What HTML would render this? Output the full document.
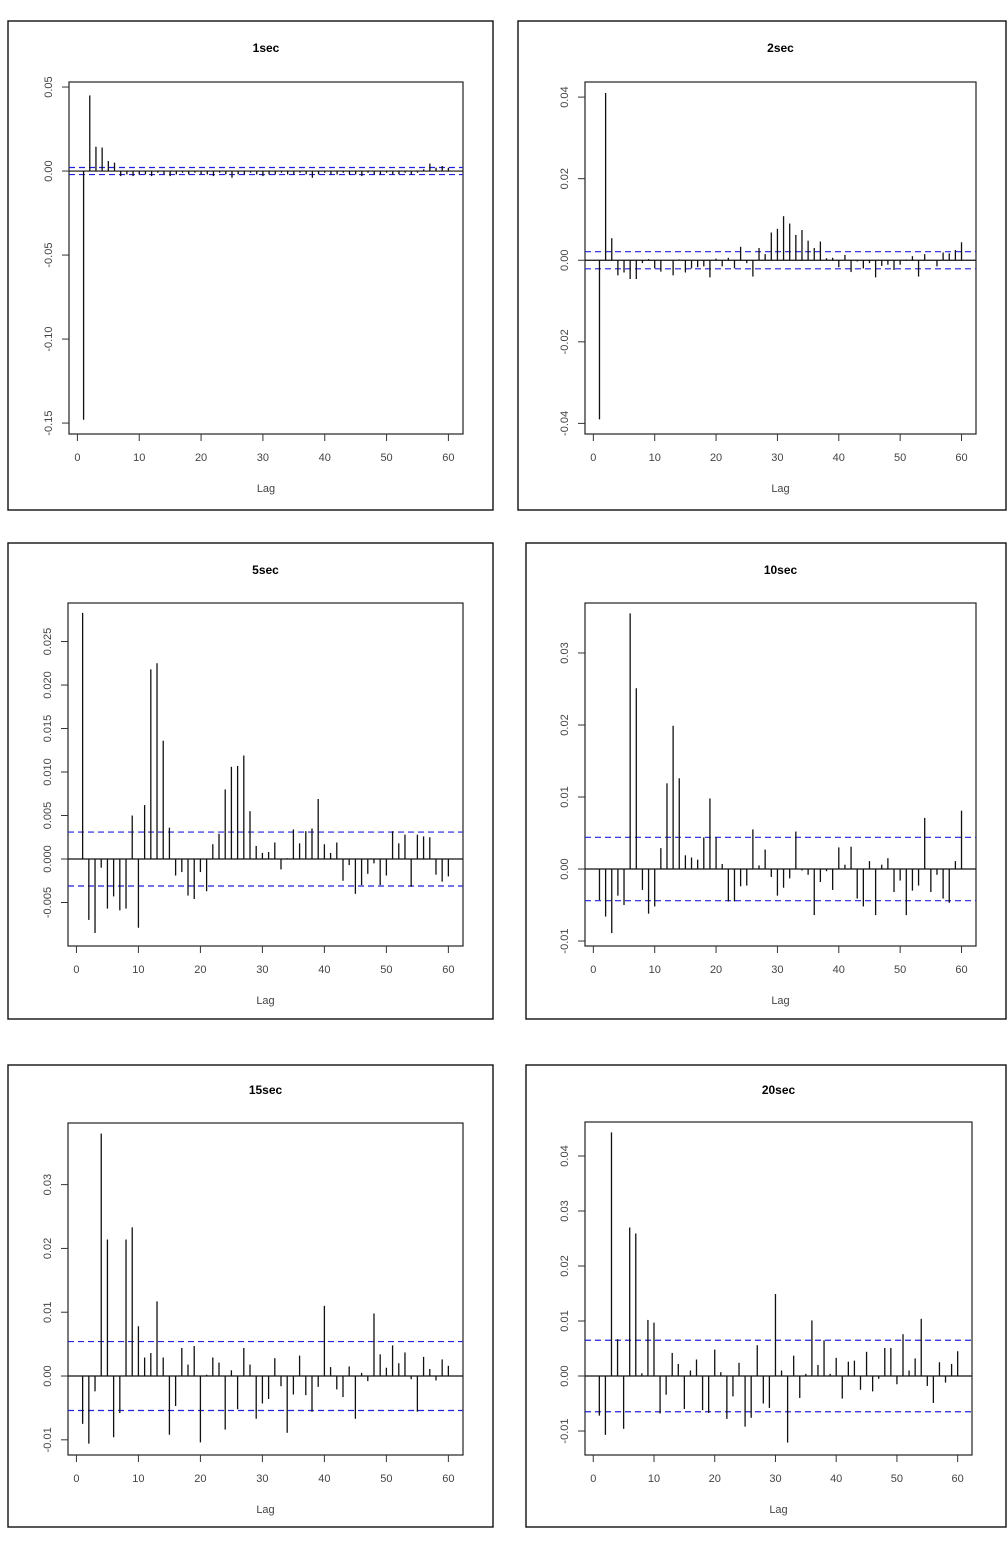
<!DOCTYPE html>
<html><head><meta charset="utf-8"><style>
html,body{margin:0;padding:0;background:#fff;}
svg{display:block;font-family:"Liberation Sans",sans-serif;}
</style></head><body>
<svg id="chart" width="1008" height="1551" viewBox="0 0 1008 1551" xmlns="http://www.w3.org/2000/svg"></svg>
<script>
// ---- data arrays (ACF values for lags 1..60) ----
const lags = Array.from({length:60},(_,i)=>i+1);
const titles = ["1sec","2sec","5sec","10sec","15sec","20sec"];
const acf1sec = [-0.148,0.045,0.0145,0.014,0.006,0.005,-0.003,-0.002,-0.003,-0.002,-0.002,-0.003,-0.001,-0.002,-0.003,-0.002,-0.001,-0.002,-0.001,-0.002,-0.002,-0.003,-0.001,-0.002,-0.004,-0.002,-0.002,-0.001,-0.002,-0.003,-0.002,-0.002,-0.001,-0.002,-0.002,-0.001,-0.002,-0.004,-0.002,-0.001,-0.002,-0.002,-0.001,-0.002,-0.002,-0.003,-0.001,-0.002,-0.002,-0.001,-0.002,-0.002,-0.001,-0.002,-0.001,0.001,0.0045,0.002,0.003,0.002];
const acf2sec = [-0.039,0.041,0.0054,-0.0037,-0.003,-0.0046,-0.0046,-0.0007,0.0003,-0.002,-0.0028,0.0001,-0.0037,0.0002,-0.003,-0.002,-0.0017,-0.0015,-0.0042,0.0004,-0.0015,0.0006,-0.002,0.0033,-0.0007,-0.004,0.003,0.0015,0.0068,0.0077,0.0108,0.009,0.0062,0.0074,0.0048,0.003,0.0046,0.0005,0.0006,-0.0017,0.0013,-0.0029,-0.0003,-0.002,-0.0007,-0.0042,-0.0014,-0.0011,-0.0024,-0.0011,0.0002,0.001,-0.004,0.0015,0.0001,-0.0015,0.0019,0.0017,0.0025,0.0044];
const acf5sec = [0.0283,-0.007,-0.0085,-0.001,-0.0057,-0.0043,-0.0059,-0.0057,0.005,-0.0079,0.0062,0.0218,0.0225,0.0136,0.0036,-0.0019,-0.0015,-0.0042,-0.0046,-0.0015,-0.0037,0.0017,0.0029,0.008,0.0106,0.0107,0.0119,0.0055,0.0015,0.0007,0.0008,0.0019,-0.0012,0.0001,0.0034,0.0018,0.0032,0.0035,0.0069,0.0017,0.0007,0.0019,-0.0025,-0.0007,-0.004,-0.003,-0.0017,-0.0005,-0.003,-0.0019,0.0032,0.0018,0.0028,-0.0032,0.0028,0.0026,0.0025,-0.0018,-0.0026,-0.002];
const acf10sec = [-0.0043,-0.0066,-0.0089,-0.0037,-0.005,0.0355,0.0251,-0.0029,-0.0062,-0.0052,0.0029,0.0119,0.0199,0.0126,0.0019,0.0016,0.0013,0.0044,0.0098,0.0044,0.0007,-0.0045,-0.0045,-0.0024,-0.0023,0.0055,0.0005,0.0027,-0.0011,-0.0037,-0.0026,-0.0013,0.0052,-0.0002,-0.0008,-0.0064,-0.0018,-0.0003,-0.0029,0.003,0.0006,0.0031,-0.0041,-0.0052,0.0011,-0.0064,0.0006,0.0015,-0.0032,-0.0016,-0.0064,-0.003,-0.0023,0.0071,-0.0032,-0.0008,-0.0041,-0.0047,0.0011,0.0081];
const acf15sec = [-0.0075,-0.0106,-0.0024,0.038,0.0214,-0.0096,-0.0058,0.0214,0.0233,0.0078,0.0029,0.0036,0.0117,0.0029,-0.0092,-0.0047,0.0044,0.0018,0.0047,-0.0104,0.0002,0.0029,0.0021,-0.0084,0.0009,-0.0052,0.0044,0.0018,-0.0067,-0.0043,-0.0036,0.0028,-0.0016,-0.0089,-0.0029,0.0032,-0.003,-0.0056,-0.0017,0.011,0.0014,-0.0021,-0.0033,0.0015,-0.0067,0.0005,-0.0008,0.0098,0.0034,0.0013,0.0048,0.002,0.0037,-0.0005,-0.0056,0.003,0.0011,-0.0007,0.0026,0.0016];
const acf20sec = [-0.0072,-0.0107,0.0443,0.0067,-0.0096,0.027,0.0259,0.0005,0.0102,0.0097,-0.0068,-0.0034,0.0042,0.0022,-0.006,0.001,0.003,-0.0062,-0.0067,0.0048,0.0007,-0.0078,-0.0037,0.0024,-0.0092,-0.0076,0.0056,-0.005,-0.0058,0.0149,0.001,-0.0121,0.0037,-0.004,0.0004,0.0101,0.002,0.0065,0.0004,0.0033,-0.0041,0.0026,0.0028,-0.0025,0.0044,-0.0028,-0.0005,0.0051,0.0051,-0.0015,0.0076,0.001,0.0032,0.0104,-0.0018,-0.0049,0.0025,-0.0012,0.0022,0.0045];
const ciBounds = [0.0021,0.0021,0.0031,0.0044,0.0054,0.0065];
const yLimMin = [-0.1565,-0.0426,-0.0100,-0.01069,-0.01238,-0.01436];
const yLimMax = [0.053,0.0437,0.02943,0.03694,0.03966,0.04618];
const yTicks1 = [-0.15,-0.10,-0.05,0.00,0.05];
const yTicks2 = [-0.04,-0.02,0.00,0.02,0.04];
const yTicks3 = [-0.005,0.000,0.005,0.010,0.015,0.020,0.025];
const yTicks4 = [-0.01,0.00,0.01,0.02,0.03];
const yTicks5 = [-0.01,0.00,0.01,0.02,0.03];
const yTicks6 = [-0.01,0.00,0.01,0.02,0.03,0.04];
const yTickDigits = [2,2,3,2,2,2];
const xTicks = [0,10,20,30,40,50,60];

// ---- layout (not data) ----
const series = [acf1sec,acf2sec,acf5sec,acf10sec,acf15sec,acf20sec];
const yTickSets = [yTicks1,yTicks2,yTicks3,yTicks4,yTicks5,yTicks6];
const frames = [
 {ox:8,oy:21,ow:485,oh:489, px0:69,px1:463,py0:82,py1:434, ty:48},
 {ox:518,oy:21,ow:488,oh:489, px0:585,px1:976,py0:82,py1:434, ty:48},
 {ox:8,oy:543,ow:485,oh:476, px0:68,px1:463,py0:603,py1:946, ty:570},
 {ox:526,oy:543,ow:480,oh:476, px0:585,px1:976,py0:603,py1:946, ty:570},
 {ox:8,oy:1065,ow:485,oh:462, px0:68,px1:463,py0:1123,py1:1455, ty:1090},
 {ox:526,oy:1065,ow:480,oh:462, px0:585,px1:972,py0:1122,py1:1455, ty:1090}
];
const NS="http://www.w3.org/2000/svg";
const svg=document.getElementById('chart');
function mk(tag,attrs,parent){const e=document.createElementNS(NS,tag);for(const k in attrs)e.setAttribute(k,attrs[k]);(parent||svg).appendChild(e);return e;}

frames.forEach((f,i)=>{
  const g=mk('g',{});
  
  
  const xmin=-1.36,xmax=62.36;
  const sx=v=>f.px0+(v-xmin)/(xmax-xmin)*(f.px1-f.px0);
  const sy=v=>f.py0+(yLimMax[i]-v)/(yLimMax[i]-yLimMin[i])*(f.py1-f.py0);
  const outer=mk('rect',{x:f.ox,y:f.oy,width:f.ow,height:f.oh,fill:'none',stroke:'#111','stroke-width':1.4},g);
  
  
  const t=mk('text',{x:(f.px0+f.px1)/2,y:f.ty,'text-anchor':'middle','dominant-baseline':'central','font-size':12,'font-weight':'bold',fill:'#000'},g);
  t.textContent=titles[i];
  
  
  const box=mk('rect',{x:f.px0,y:f.py0,width:f.px1-f.px0,height:f.py1-f.py0,fill:'none',stroke:'#222','stroke-width':1.2},g);
  
  
  // y axis
  yTickSets[i].forEach(v=>{
    const y=sy(v);
    const tk=mk('line',{x1:f.px0-7,x2:f.px0,y1:y,y2:y,stroke:'#333','stroke-width':1},g);
    
    
    const lx=f.px0-20;
    const lb=mk('text',{x:lx,y:y,transform:`rotate(-90 ${lx} ${y})`,'text-anchor':'middle','dominant-baseline':'central','font-size':11,fill:'#444'},g);
    lb.textContent=v.toFixed(yTickDigits[i]);
    
    
  });
  // x axis
  xTicks.forEach(v=>{
    const x=sx(v);
    const tk=mk('line',{x1:x,x2:x,y1:f.py1,y2:f.py1+7,stroke:'#333','stroke-width':1},g);
    
    
    const lb=mk('text',{x:x,y:f.py1+24,'text-anchor':'middle','dominant-baseline':'central','font-size':11,fill:'#444'},g);
    lb.textContent=String(v);
    
    
  });
  const xl=mk('text',{x:(f.px0+f.px1)/2,y:f.py1+55,'text-anchor':'middle','dominant-baseline':'central','font-size':11,fill:'#444'},g);
  xl.textContent='Lag';
  
  
  // zero line
  const z=mk('line',{x1:f.px0,x2:f.px1,y1:sy(0),y2:sy(0),stroke:'#111','stroke-width':1.2},g);
  
  
  // CI lines
  [ciBounds[i],-ciBounds[i]].forEach(c=>{
    const l=mk('line',{x1:f.px0,x2:f.px1,y1:sy(c),y2:sy(c),stroke:'#2222dd','stroke-width':1.2,'stroke-dasharray':'6,4'},g);
    
    
  });
  // bars
  series[i].forEach((v,k)=>{
    const x=sx(lags[k]);
    const b=mk('line',{x1:x,x2:x,y1:sy(0),y2:sy(v),stroke:'#111','stroke-width':1.3},g);
    
    
  });
});
</script>
</body></html>
